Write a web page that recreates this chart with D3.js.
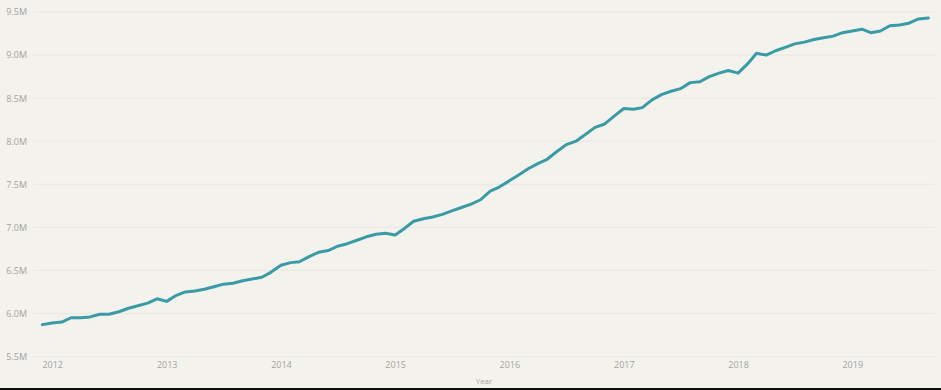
<!DOCTYPE html>
<html>
<head>
<meta charset="utf-8">
<script src="https://cdn.jsdelivr.net/npm/d3@7"></script>
<style>
    html, body { margin: 0; padding: 0; background: #f3f2ed; }
    svg { display: block; }
</style>
</head>
<body>
<div id="chart-container"></div>
<script>
// monthly values (millions), Dec 2011 .. Sep 2019
const startMonth = "2011-12-01";
const values = [
    5.87, 5.89, 5.90, 5.95, 5.95, 5.96, 5.99, 5.99, 6.02, 6.06, 6.09, 6.12, 6.17,
    6.14, 6.21, 6.25, 6.26, 6.28, 6.31, 6.34, 6.35, 6.38, 6.40, 6.42, 6.48,
    6.56, 6.59, 6.60, 6.66, 6.71, 6.73, 6.78, 6.81, 6.85, 6.89, 6.92, 6.93,
    6.91, 6.99, 7.07, 7.10, 7.12, 7.15, 7.19, 7.23, 7.27, 7.32, 7.42, 7.47,
    7.54, 7.61, 7.68, 7.74, 7.79, 7.88, 7.96, 8.00, 8.08, 8.16, 8.20, 8.29,
    8.38, 8.37, 8.39, 8.48, 8.54, 8.58, 8.61, 8.68, 8.69, 8.75, 8.79, 8.82,
    8.79, 8.90, 9.02, 9.00, 9.05, 9.09, 9.13, 9.15, 9.18, 9.20, 9.22, 9.26,
    9.28, 9.30, 9.26, 9.28, 9.34, 9.35, 9.37, 9.42, 9.43
];
const yTicks = [5.5, 6.0, 6.5, 7.0, 7.5, 8.0, 8.5, 9.0, 9.5];
const xTickYears = [2012, 2013, 2014, 2015, 2016, 2017, 2018, 2019];

const data = values.map((v, i) => {
    const d = new Date(startMonth + "T00:00:00");
    d.setMonth(d.getMonth() + i);
    return { date: d, value: v };
});

const width = 941;
const height = 390;

const svg = d3.select("#chart-container")
    .append("svg")
    .attr("width", width)
    .attr("height", height);

svg.append("rect")
    .attr("width", width)
    .attr("height", height)
    .attr("fill", "#f3f2ed");

const x = d3.scaleTime()
    .domain(d3.extent(data, d => d.date))
    .range([42.5, 928.3]);

const y = d3.scaleLinear()
    .domain([5.5, 9.5])
    .range([356.5, 12]);

// horizontal gridlines
svg.selectAll(".grid")
    .data(yTicks)
    .join("line")
    .attr("x1", 33)
    .attr("x2", 935)
    .attr("y1", d => y(d))
    .attr("y2", d => y(d))
    .attr("stroke", "#e8e7e1")
    .attr("stroke-width", 1);

// y axis labels
const yAxis = svg.append("g")
    .attr("transform", "translate(27,0)")
    .call(d3.axisLeft(y)
        .tickValues(yTicks)
        .tickSize(0)
        .tickPadding(0)
        .tickFormat(d => d3.format(".1f")(d) + "M"));
yAxis.select(".domain").remove();
yAxis.selectAll("text")
    .attr("fill", "#a3a3a0")
    .style("font-family", "Open Sans, sans-serif")
    .style("font-size", "9px");

// x axis labels
const xAxis = svg.append("g")
    .attr("transform", "translate(0,362)")
    .call(d3.axisBottom(x)
        .tickValues(xTickYears.map(yr => new Date(yr, 0, 1)))
        .tickSize(0)
        .tickPadding(0)
        .tickFormat(d3.timeFormat("%Y")));
xAxis.select(".domain").remove();
xAxis.selectAll("text")
    .attr("fill", "#a3a3a0")
    .style("font-family", "Open Sans, sans-serif")
    .style("font-size", "9px");

// x axis title
svg.append("text")
    .attr("x", 484)
    .attr("y", 384)
    .attr("text-anchor", "middle")
    .attr("fill", "#a3a3a0")
    .style("font-family", "Open Sans, sans-serif")
    .style("font-size", "8px")
    .text("Year");

const line = d3.line()
    .x(d => x(d.date))
    .y(d => y(d.value));

svg.append("path")
    .datum(data)
    .attr("fill", "none")
    .attr("stroke", "#3a9ba6")
    .attr("stroke-width", 3)
    .attr("stroke-linejoin", "round")
    .attr("stroke-linecap", "round")
    .attr("d", line);

// dark strip along the bottom edge
svg.append("rect")
    .attr("x", 0)
    .attr("y", 388)
    .attr("width", width)
    .attr("height", 2)
    .attr("fill", "#111");
</script>
</body>
</html>
